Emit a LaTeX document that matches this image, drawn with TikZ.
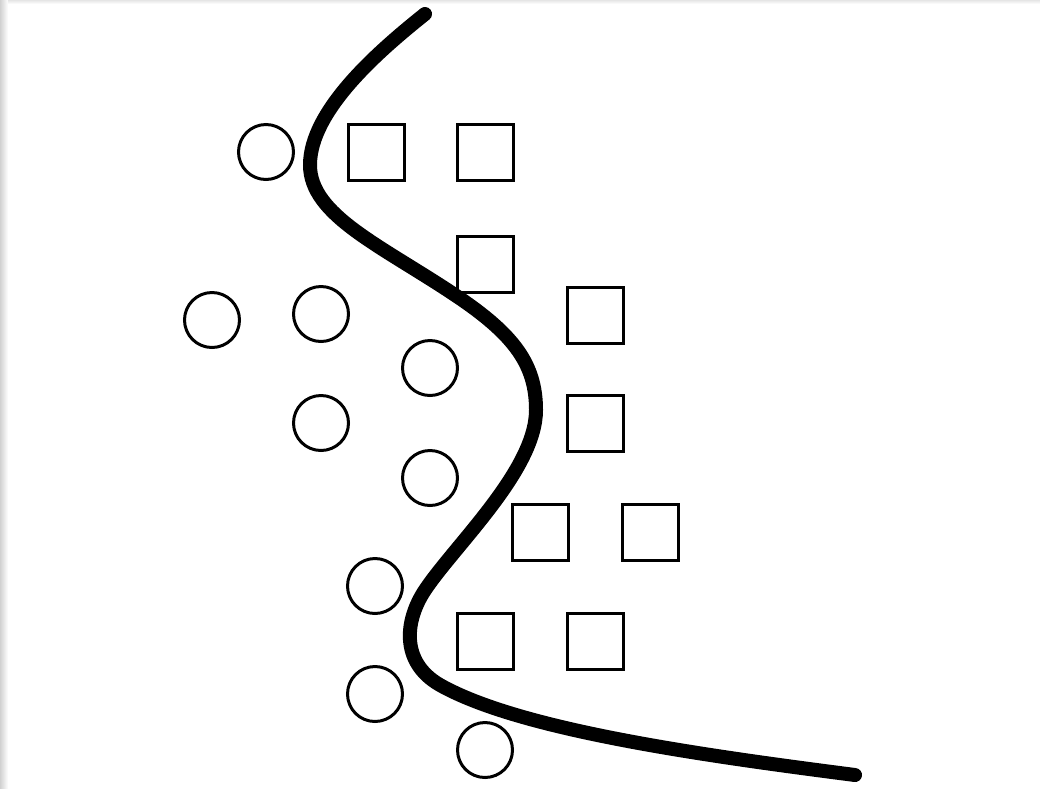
\documentclass[tikz,border=0pt]{standalone}
\begin{document}
\begin{tikzpicture}[x=1pt,y=-1pt,
  dot/.style={circle,draw=black,line width=3pt,minimum size=55pt,inner sep=0pt},
  box/.style={rectangle,draw=black,line width=3pt,minimum size=56pt,inner sep=0pt},
  boundary/.style={line width=14pt,line cap=round,black}]
\useasboundingbox (0,0) rectangle (1040,788);
\fill[white] (0,0) rectangle (1040,788);
\shade[left color=black!18,right color=white] (0,0) rectangle (8,788);
\shade[top color=black!10,bottom color=white] (8,0) rectangle (1040,4);
% circles
\node[dot] (c1) at (266,152) {};
\node[dot] (c2) at (212,320) {};
\node[dot] (c3) at (321,314) {};
\node[dot] (c4) at (430,368) {};
\node[dot] (c5) at (321,423) {};
\node[dot] (c6) at (430,478) {};
\node[dot] (c7) at (375,586) {};
\node[dot] (c8) at (375,694) {};
\node[dot] (c9) at (485,750) {};
% squares
\node[box] (s1) at (376,152) {};
\node[box] (s2) at (485,152) {};
\node[box] (s3) at (485,264) {};
\node[box] (s4) at (595,315) {};
\node[box] (s5) at (595,423) {};
\node[box] (s6) at (540,532) {};
\node[box] (s7) at (650,532) {};
\node[box] (s8) at (485,641) {};
\node[box] (s9) at (595,641) {};
% decision boundary
\coordinate (top) at (425,14);
\coordinate (endp) at (855,775);
\draw[boundary] (top) .. controls (380,50) and (310,110) .. (310,165)
  .. controls (310,215) and (380,245) .. (455,295)
  .. controls (515,335) and (536,365) .. (536,410)
  .. controls (536,470) and (455,545) .. (425,590)
  .. controls (405,620) and (400,662) .. (440,685)
  .. controls (520,730) and (700,755) .. (endp);
\end{tikzpicture}
\end{document}
